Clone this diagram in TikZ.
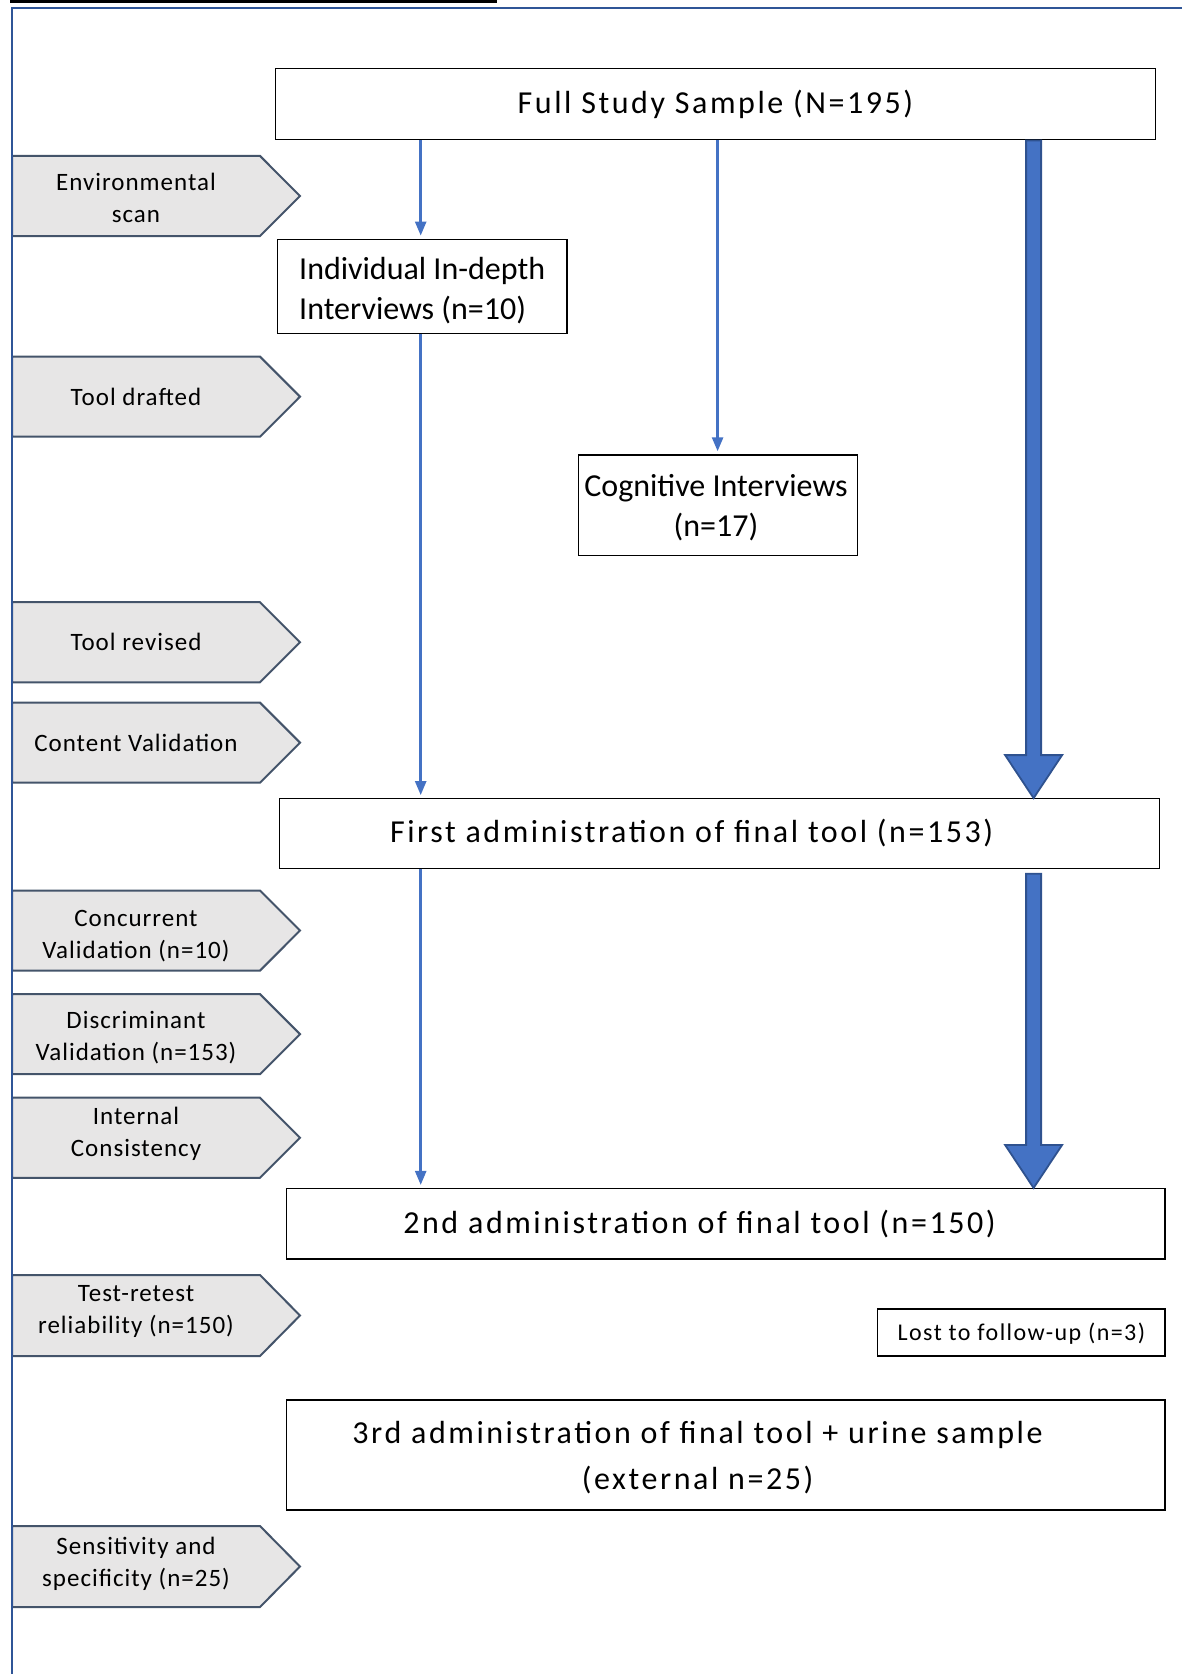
\documentclass[tikz,border=0pt]{standalone}
\usepackage{fontspec}
\setmainfont{Carlito}
\newfontfamily\widefont[LetterSpace=8]{Carlito}
\newfontfamily\chevfont[LetterSpace=4]{Carlito}
\newfontfamily\lostfont[LetterSpace=6]{Carlito}
\usetikzlibrary{arrows.meta,calc}
\definecolor{arrblue}{HTML}{4472C4}
\definecolor{darkblue}{HTML}{2F528F}
\definecolor{framecol}{HTML}{2F5597}
\definecolor{chevfill}{HTML}{E7E6E6}
\definecolor{chevline}{HTML}{44546A}
\newcommand{\mychev}[5]{%
  \filldraw[chevst] (12,#2) -- (260,#2) -- (300,{(#2+#3)/2}) -- (260,#3) -- (12,#3) -- cycle;
  \node[chevtxt] (#1) at (136,{(#2+#3)/2+#5}) {#4};}
\begin{document}
\begin{tikzpicture}[x=1pt,y=-1pt,
  box/.style={draw=black, line width=1.2pt, fill=white, inner sep=0pt},
  maintxt/.style={font=\fontsize{32}{40}\selectfont, align=center, inner sep=0pt},
  widetxt/.style={font=\widefont\fontsize{32}{46}\selectfont, align=center, inner sep=0pt},
  chevst/.style={fill=chevfill, draw=chevline, line width=2pt},
  chevtxt/.style={font=\chevfont\fontsize{25}{32}\selectfont, align=center, inner sep=0pt},
  thinarr/.style={draw=arrblue, line width=2.5pt, shorten >=3pt, -{Triangle[width=11pt,length=14pt]}},
  thickarr/.style={fill=arrblue, draw=darkblue, line width=1.8pt, line join=miter}]
\useasboundingbox (0,0) rectangle (1182,1674);

% cut-off title underline
\draw[black, line width=2.5pt] (10,1.5) -- (497,1.5);

% boxes
\node[box, minimum width=880pt, minimum height=71.6pt] (full) at (715.5,104) {};
\node[box, minimum width=289.4pt, minimum height=94pt] (indiv) at (422.3,286.2) {};
\node[box, minimum width=278.7pt, minimum height=100.4pt] (cog) at (718,505.1) {};
\node[box, minimum width=879.8pt, minimum height=69.4pt] (first) at (719.7,833.4) {};
\node[box, minimum width=878.8pt, minimum height=70.5pt] (second) at (725.6,1223.8) {};
\node[box, minimum width=287.3pt, minimum height=47pt] (lost) at (1021.4,1332.5) {};
\node[box, minimum width=878.8pt, minimum height=110pt] (third) at (725.6,1455) {};

\node[widetxt] (fullT) at (full.center) {Full Study Sample (N=195)};
\node[maintxt, anchor=west, align=left] (indivT) at ($(indiv.west)+(22,4)$) {Individual In-depth\\Interviews (n=10)};
\node[maintxt] (cogT) at ($(cog.center)+(-2,3)$) {Cognitive Interviews\\(n=17)};
\node[widetxt] (firstT) at ($(first.center)+(-28,0)$) {First administration of final tool (n=153)};
\node[widetxt] (secondT) at ($(second.center)+(-26,0)$) {2nd administration of final tool (n=150)};
\node[inner sep=0pt, font=\lostfont\fontsize{24}{28}\selectfont] (lostT) at ($(lost.center)+(0,1)$) {Lost to follow-up (n=3)};
\node[widetxt] (thirdT) at ($(third.center)+(-28,3)$) {3rd administration of final tool + urine sample\\(external n=25)};

% chevrons
\mychev{env}{155.9}{236.0}{Environmental\\scan}{2}
\mychev{draft}{356.6}{436.7}{Tool drafted}{0}
\mychev{rev}{602.2}{682.3}{Tool revised}{0}
\mychev{content}{702.6}{782.7}{Content Validation}{0}
\mychev{conc}{890.5}{970.6}{Concurrent\\Validation (n=10)}{6}
\mychev{disc}{994.1}{1074.2}{Discriminant\\Validation (n=153)}{3}
\mychev{intc}{1097.7}{1177.8}{Internal\\Consistency}{-4}
\mychev{retest}{1275}{1356}{Test-retest\\reliability (n=150)}{-4}
\mychev{sens}{1526}{1607}{Sensitivity and\\specificity (n=25)}{-3}

% frame
\draw[framecol, line width=2pt] (12,1674) -- (12,7.5) -- (1182,7.5);

% thin arrows
\coordinate (xL) at (420.7,0);
\coordinate (xM) at (717.6,0);
\coordinate (xT) at (1033.6,0);
\draw[thinarr] (full.south -| xL) -- (indiv.north -| xL);
\draw[thinarr] (indiv.south -| xL) -- (first.north -| xL);
\draw[thinarr] (full.south -| xM) -- (cog.north -| xM);
\draw[thinarr] (first.south -| xL) -- (second.north -| xL);

% thick arrows
\draw[thickarr] ($(full.south -| xT)+(-7.5,0)$) -- ($(first.north -| xT)+(-7.5,-43)$)
  -- ($(first.north -| xT)+(-28.5,-43)$) -- (first.north -| xT)
  -- ($(first.north -| xT)+(28.5,-43)$) -- ($(first.north -| xT)+(7.5,-43)$)
  -- ($(full.south -| xT)+(7.5,0)$) -- cycle;
\draw[thickarr] ($(first.south -| xT)+(-7.5,5)$) -- ($(second.north -| xT)+(-7.5,-43)$)
  -- ($(second.north -| xT)+(-28.5,-43)$) -- (second.north -| xT)
  -- ($(second.north -| xT)+(28.5,-43)$) -- ($(second.north -| xT)+(7.5,-43)$)
  -- ($(first.south -| xT)+(7.5,5)$) -- cycle;
\end{tikzpicture}
\end{document}
